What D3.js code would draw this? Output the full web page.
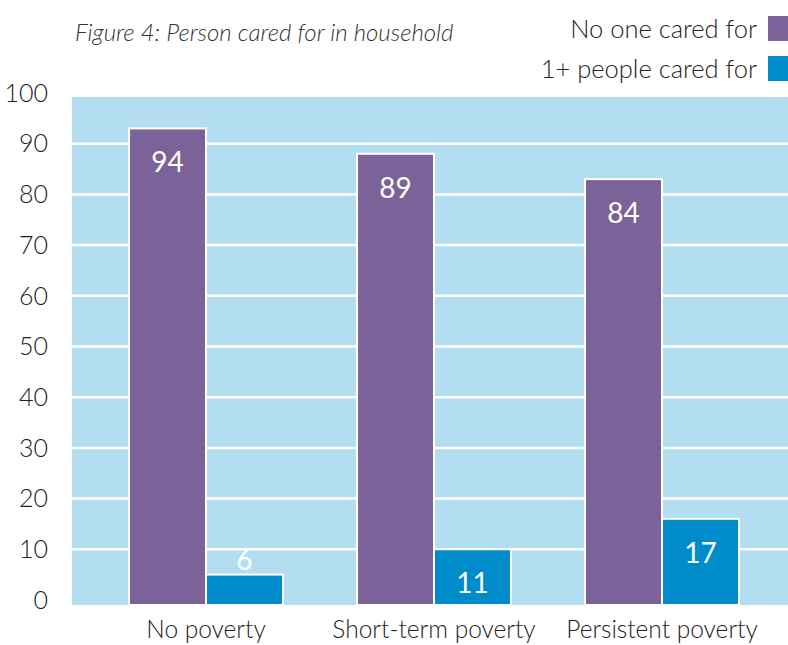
<!DOCTYPE html>
<html>
<head>
<meta charset="utf-8">
<script src="https://cdn.jsdelivr.net/npm/d3@7"></script>
<style>
  body { margin: 0; background: #fff; }
  svg text { font-family: Lato, "Noto Sans", sans-serif; font-weight: 300; }
</style>
</head>
<body>
<div id="chart"></div>
<script>
// data
const categories = ["No poverty", "Short-term poverty", "Persistent poverty"];
const seriesNames = ["No one cared for", "1+ people cared for"];
const noOneCaredFor = [94, 89, 84];
const peopleCaredFor = [6, 11, 17];
const yTicks = [0, 10, 20, 30, 40, 50, 60, 70, 80, 90, 100];
const colors = ["#7b6299", "#008bca"];

const width = 788, height = 645;
const plot = { left: 72, right: 788, top: 98, bottom: 605 };

const svg = d3.select("#chart").append("svg")
  .attr("width", width)
  .attr("height", height);

// scales
const y = d3.scaleLinear().domain([0, 100]).range([plot.bottom, plot.top]);
const x0 = d3.scaleBand().domain(categories).range([92, 776])
  .paddingInner(0.325).paddingOuter(0.1625);
const x1 = d3.scaleBand().domain(seriesNames).range([0, x0.bandwidth()]);

// background
svg.append("rect")
  .attr("x", plot.left)
  .attr("y", y(100) - 1)
  .attr("width", plot.right - plot.left)
  .attr("height", plot.bottom - y(100) + 1)
  .attr("fill", "#b3ddf0");

// gridlines
svg.append("g")
  .selectAll("line")
  .data(yTicks.filter(d => d > 0 && d < 100))
  .join("line")
  .attr("x1", plot.left)
  .attr("x2", plot.right)
  .attr("y1", d => y(d) - 5)
  .attr("y2", d => y(d) - 5)
  .attr("stroke", "#fff")
  .attr("stroke-width", 2.5);

// y axis labels
svg.append("g")
  .selectAll("text")
  .data(yTicks)
  .join("text")
  .attr("x", 48)
  .attr("y", d => y(d) - 5)
  .attr("dy", "0.35em")
  .attr("text-anchor", "end")
  .attr("font-size", 25)
  .attr("fill", "#222")
  .text(d => d);

// bars
const rows = categories.map((c, i) => ({
  cat: c,
  vals: [
    { key: seriesNames[0], v: noOneCaredFor[i], color: colors[0] },
    { key: seriesNames[1], v: peopleCaredFor[i], color: colors[1] }
  ]
}));

const groups = svg.append("g")
  .selectAll("g")
  .data(rows)
  .join("g")
  .attr("transform", d => "translate(" + x0(d.cat) + ",0)");

groups.selectAll("rect")
  .data(d => d.vals)
  .join("rect")
  .attr("x", d => x1(d.key))
  .attr("y", d => y(d.v))
  .attr("width", x1.bandwidth())
  .attr("height", d => plot.bottom - y(d.v))
  .attr("fill", d => d.color)
  .attr("stroke", "#fff")
  .attr("stroke-width", 2);

// value labels
groups.selectAll("text.val")
  .data(d => d.vals)
  .join("text")
  .attr("class", "val")
  .attr("x", d => x1(d.key) + x1.bandwidth() / 2)
  .attr("y", d => d.v < 8 ? y(d.v) - 14 : y(d.v) + 34)
  .attr("dy", "0.35em")
  .attr("text-anchor", "middle")
  .attr("font-size", 28)
  .style("font-weight", 400)
  .attr("fill", "#fff")
  .text(d => d.v);

// category labels
svg.append("g")
  .selectAll("text")
  .data(categories)
  .join("text")
  .attr("x", d => x0(d) + x0.bandwidth() / 2)
  .attr("y", 629)
  .attr("dy", "0.35em")
  .attr("text-anchor", "middle")
  .attr("font-size", 24.5)
  .attr("fill", "#222")
  .text(d => d);

// title
svg.append("text")
  .attr("x", 75)
  .attr("y", 41)
  .attr("font-size", 24)
  .attr("font-style", "italic")
  .attr("fill", "#333")
  .text("Figure 4: Person cared for in household");

// legend
const legend = svg.append("g")
  .selectAll("g")
  .data(seriesNames)
  .join("g")
  .attr("transform", (d, i) => "translate(0," + (29 + i * 40) + ")");

legend.append("text")
  .attr("x", 757)
  .attr("dy", "0.35em")
  .attr("text-anchor", "end")
  .attr("font-size", 25.5)
  .attr("fill", "#222")
  .text(d => d);

legend.append("rect")
  .attr("x", 768)
  .attr("y", -13)
  .attr("width", 22)
  .attr("height", 25)
  .attr("fill", (d, i) => colors[i]);
</script>
</body>
</html>
